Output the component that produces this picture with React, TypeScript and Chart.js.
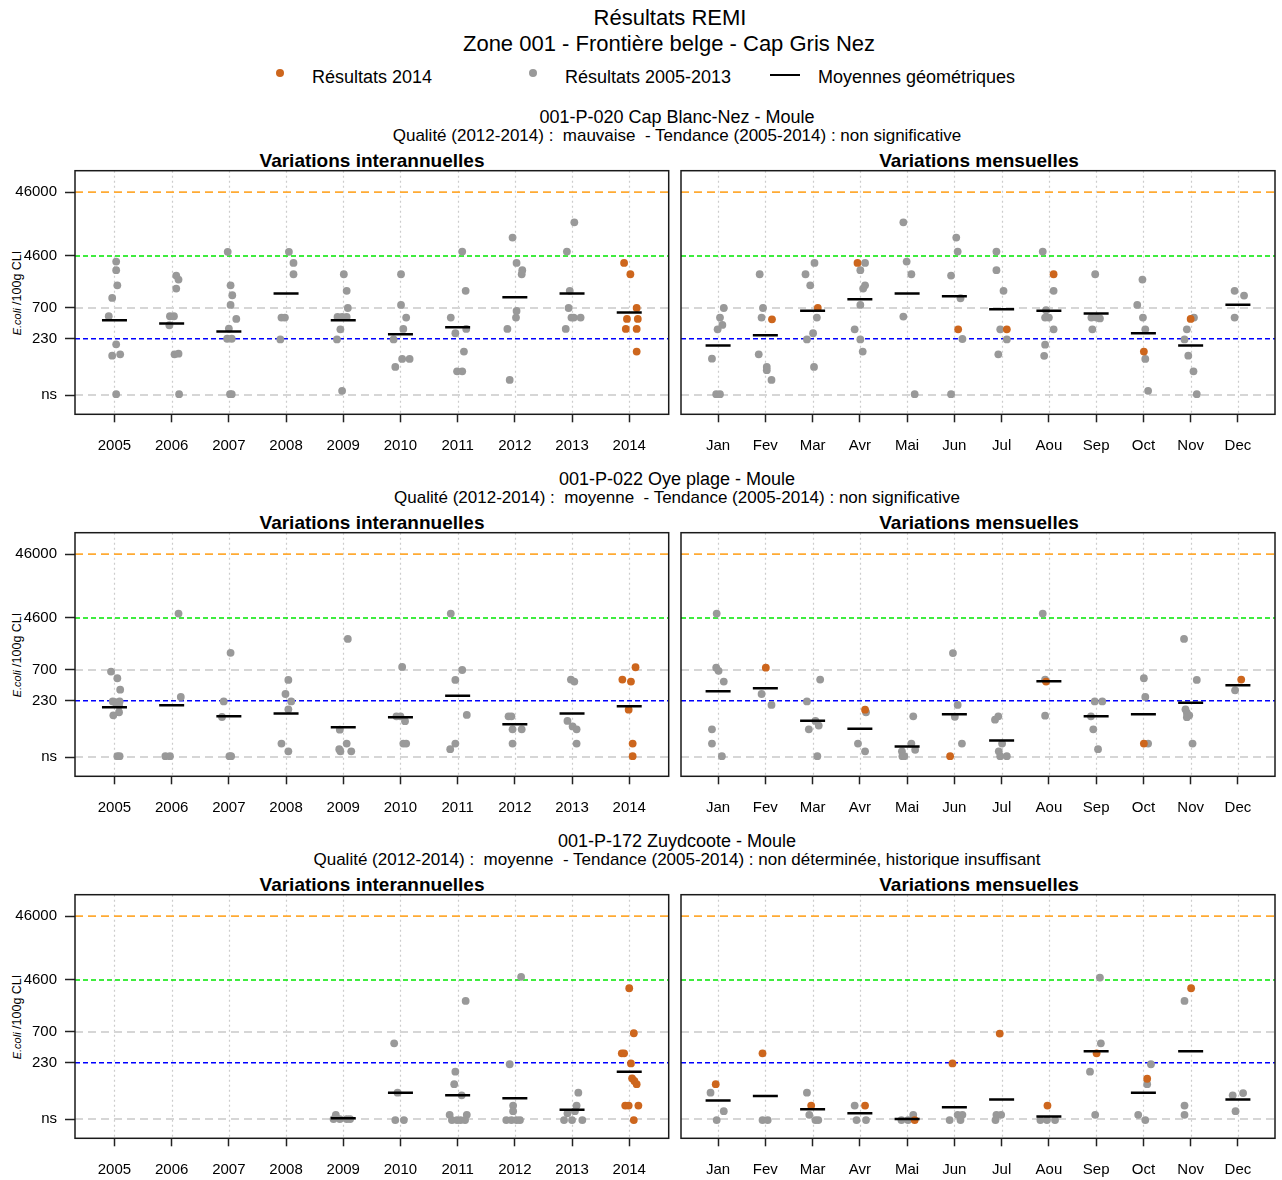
import React, { useEffect, useRef } from 'react';
import { Chart, registerables } from 'chart.js';
Chart.register(...registerables);

const FONT = "'Liberation Sans', Arial, Helvetica, sans-serif";
const GREY = '#999999';
const ORANGE = '#CD661D';

const years = ['2005', '2006', '2007', '2008', '2009', '2010', '2011', '2012', '2013', '2014'];
const months = ['Jan', 'Fev', 'Mar', 'Avr', 'Mai', 'Jun', 'Jul', 'Aou', 'Sep', 'Oct', 'Nov', 'Dec'];
const yTickValues = [30, 230, 700, 4600, 46000];
const yTickLabels = ['ns', '230', '700', '4600', '46000'];

type Pt = [number, number];

// ---------- 001-P-020 Cap Blanc-Nez ----------
const s1YearGrey: Pt[] = [
  [0.03, 3750], [0.03, 2740], [0.05, 1590], [-0.04, 1007], [-0.10, 519], [0.03, 188], [-0.04, 125], [0.10, 131], [0.03, 31],
  [1.08, 2260], [1.12, 1955], [1.08, 1412], [0.97, 519], [1.04, 519], [0.96, 375], [1.05, 131], [1.12, 134], [1.13, 31],
  [1.98, 5320], [2.03, 1590], [2.06, 1109], [2.03, 782], [2.13, 471], [2.0, 332], [1.97, 230], [2.05, 230], [2.02, 31], [2.05, 31],
  [3.05, 5320], [3.13, 3570], [3.13, 2370], [2.92, 494], [2.98, 494], [2.9, 225],
  [4.01, 2370], [4.06, 1300], [4.08, 700], [3.9, 507], [3.98, 507], [4.06, 507], [3.95, 324], [3.89, 225], [3.98, 35],
  [5.01, 2370], [5.01, 782], [5.1, 494], [5.05, 328], [4.88, 225], [5.03, 111], [5.16, 111], [4.91, 83],
  [6.08, 5380], [6.14, 1300], [5.88, 494], [6.15, 328], [5.96, 281], [6.11, 145], [5.99, 71], [6.08, 71],
  [6.96, 8930], [7.03, 3570], [7.13, 2740], [7.12, 2370], [7.03, 630], [7.02, 494], [6.87, 328], [6.91, 52],
  [8.04, 15500], [7.91, 5380], [7.96, 1300], [7.94, 700], [7.99, 494], [8.03, 494], [8.15, 494], [7.89, 328],
];
const s1YearOrange: Pt[] = [[8.91, 3570], [9.02, 2370], [9.13, 700], [8.96, 471], [9.15, 471], [8.94, 328], [9.13, 328], [9.13, 145]];
const s1YearMeans: (number | null)[] = [450, 398, 298, 1180, 449, 271, 348, 1032, 1180, 593];

const s1MonthGrey: Pt[] = [
  [0.12, 700], [0.04, 494], [0.09, 379], [-0.01, 324], [-0.13, 112], [-0.04, 31], [0.04, 31],
  [0.88, 2370], [0.95, 700], [0.92, 494], [0.86, 131], [1.03, 83], [1.03, 74], [1.13, 52],
  [2.04, 3570], [1.85, 2370], [1.95, 1590], [2.09, 494], [2.01, 281], [1.88, 225], [2.03, 83],
  [3.11, 3570], [3.01, 2740], [3.11, 1590], [3.07, 1412], [3.01, 782], [2.89, 324], [3.01, 225], [3.06, 145],
  [3.92, 15500], [3.99, 3750], [4.09, 2370], [3.92, 513], [4.16, 31],
  [5.04, 8930], [5.07, 5380], [4.93, 2260], [5.13, 995], [5.17, 228], [4.93, 31],
  [5.89, 5380], [5.89, 2740], [6.04, 1300], [5.97, 324], [6.11, 225], [5.93, 131],
  [6.87, 5380], [7.1, 1300], [6.94, 645], [6.92, 494], [7.0, 494], [7.1, 324], [6.92, 186], [6.9, 124],
  [7.98, 2370], [7.9, 494], [8.01, 494], [8.08, 480], [7.92, 324],
  [8.98, 1955], [8.87, 782], [8.99, 494], [9.04, 324], [9.04, 111], [9.1, 35],
  [10.07, 494], [9.92, 324], [9.87, 225], [9.95, 125], [10.06, 71], [10.13, 31],
  [10.93, 1300], [11.13, 1096], [10.93, 494],
];
const s1MonthOrange: Pt[] = [[1.14, 465], [2.11, 700], [2.95, 3570], [5.08, 324], [6.11, 324], [7.1, 2370], [9.01, 145], [10.0, 471]];
const s1MonthMeans: (number | null)[] = [180, 261, 636, 960, 1180, 1069, 668, 636, 572, 281, 180, 790];

// ---------- 001-P-022 Oye plage ----------
const s2YearGrey: Pt[] = [
  [-0.06, 660], [0.05, 519], [0.1, 344], [-0.03, 225], [0.01, 218], [0.09, 225], [0.08, 193], [0.08, 152], [-0.02, 136], [0.05, 31], [0.09, 31],
  [1.12, 5380], [1.16, 264], [0.89, 31], [0.97, 31],
  [2.03, 1300], [1.91, 225], [1.88, 128], [2.01, 31], [2.04, 31],
  [3.04, 489], [2.99, 294], [3.09, 225], [3.04, 169], [2.92, 49], [3.04, 37],
  [4.08, 2150], [3.94, 81], [4.06, 49], [3.93, 40], [3.95, 37], [4.14, 37],
  [5.03, 782], [4.93, 131], [5.0, 131], [5.08, 110], [5.05, 49], [5.1, 49],
  [5.88, 5380], [6.08, 700], [5.96, 489], [6.16, 138], [5.96, 49], [5.87, 40],
  [6.89, 131], [6.94, 131], [6.96, 82], [7.12, 82], [6.96, 49],
  [7.98, 494], [8.04, 460], [7.92, 111], [8.01, 91], [8.08, 82], [8.08, 49],
];
const s2YearOrange: Pt[] = [[9.11, 772], [8.88, 494], [9.03, 460], [8.99, 167], [9.06, 49], [9.06, 31]];
const s2YearMeans: (number | null)[] = [182, 196, 131, 145, 88, 127, 277, 98, 145, 188];

const s2MonthGrey: Pt[] = [
  [-0.03, 5380], [-0.04, 760], [0.01, 680], [0.12, 460], [-0.13, 82], [-0.13, 49], [0.08, 31],
  [0.92, 294], [1.13, 198],
  [2.16, 494], [1.88, 225], [2.06, 111], [2.13, 94], [1.92, 82], [2.1, 31],
  [3.13, 152], [2.96, 49], [3.11, 37],
  [4.13, 131], [4.09, 49], [3.89, 37], [4.17, 39], [3.9, 31], [3.94, 31],
  [4.97, 1290], [5.07, 198], [5.01, 129], [5.16, 49],
  [5.86, 116], [5.93, 131], [6.01, 49], [5.94, 37], [5.97, 31], [6.11, 31],
  [6.87, 5380], [6.92, 494], [6.92, 134],
  [7.97, 225], [8.13, 225], [7.89, 131], [7.94, 82], [8.04, 40],
  [9.01, 519], [9.04, 264], [9.1, 49],
  [9.86, 2150], [10.13, 489], [9.89, 169], [9.92, 148], [9.97, 136], [9.92, 127], [10.04, 49],
  [10.94, 336],
];
const s2MonthOrange: Pt[] = [[1.01, 760], [3.11, 167], [4.91, 31], [6.94, 460], [9.01, 49], [11.07, 494]];
const s2MonthMeans: (number | null)[] = [324, 361, 112, 84, 44, 141, 54.5, 465, 131, 141, 215, 403];

// ---------- 001-P-172 Zuydcoote ----------
const s3YearGrey: Pt[] = [
  [3.87, 35], [3.83, 30], [3.94, 30], [4.06, 30], [4.12, 30],
  [4.89, 465], [4.95, 78], [4.91, 29], [5.06, 29],
  [6.14, 2150], [5.96, 167], [5.94, 106], [6.07, 71], [5.86, 35], [6.16, 35], [5.9, 29], [5.99, 29], [6.05, 29], [6.13, 29],
  [7.11, 5130], [6.91, 218], [6.97, 49], [6.97, 40], [6.85, 29], [6.94, 29], [7.03, 29], [7.09, 29],
  [8.11, 78], [8.08, 49], [7.92, 37], [8.05, 40], [7.86, 29], [8.0, 29], [8.18, 29],
];
const s3YearOrange: Pt[] = [[9.0, 3400], [9.08, 668], [8.87, 324], [8.91, 324], [9.03, 225], [9.05, 131], [9.09, 119], [9.13, 106], [8.93, 49], [8.99, 49], [9.16, 49], [9.08, 29]];
const s3YearMeans: (number | null)[] = [null, null, null, null, 31, 78, 71, 64, 42, 167];

const s3MonthGrey: Pt[] = [
  [-0.16, 78], [0.12, 40], [-0.03, 29],
  [0.94, 29], [1.05, 29],
  [1.88, 78], [1.93, 35], [2.06, 29], [2.12, 29],
  [2.89, 49], [2.93, 29], [3.13, 29],
  [4.13, 35], [3.88, 29], [4.02, 29],
  [5.07, 35], [5.17, 35], [4.9, 29], [5.13, 29],
  [5.89, 35], [5.99, 35], [5.87, 29],
  [6.82, 29], [6.96, 29], [7.13, 29],
  [8.08, 5000], [8.1, 465], [7.87, 167], [7.98, 35],
  [9.16, 218], [9.08, 106], [8.89, 35], [9.04, 29],
  [9.87, 2150], [9.87, 49], [9.87, 35],
  [10.89, 71], [11.11, 77], [10.95, 40],
];
const s3MonthOrange: Pt[] = [[-0.05, 106], [0.94, 324], [1.97, 49], [3.11, 49], [4.16, 29], [4.96, 225], [5.96, 660], [6.97, 49], [8.01, 324], [9.08, 129], [10.01, 3400]];
const s3MonthMeans: (number | null)[] = [59, 69, 43, 37, 30, 46, 61, 33, 348, 78, 348, 61];

const stationTitles = ['001-P-020 Cap Blanc-Nez - Moule', '001-P-022 Oye plage - Moule', '001-P-172 Zuydcoote - Moule'];
const stationSubtitles = [
  'Qualité (2012-2014) :  mauvaise  - Tendance (2005-2014) : non significative',
  'Qualité (2012-2014) :  moyenne  - Tendance (2005-2014) : non significative',
  'Qualité (2012-2014) :  moyenne  - Tendance (2005-2014) : non déterminée, historique insuffisant',
];

// threshold line styles (by tick index)
const lineColors = ['#D6D6D6', '#0000FF', '#D6D6D6', '#00E600', '#FFAA33'];
const lineWidths = [2, 1.5, 2, 1.5, 1.8];
const lineDashes = [[8, 5], [5, 3], [8, 5], [5, 3], [8, 5]];

const panelDecor = {
  id: 'panelDecor',
  beforeDatasetsDraw(chart: any, _args: any, opts: any) {
    const { ctx, chartArea: a, scales } = chart;
    const xs = scales.x;
    const ys = scales.y;
    ctx.save();
    ctx.lineWidth = 1.2;
    ctx.strokeStyle = '#CCCCCC';
    ctx.setLineDash([2, 3]);
    for (let i = 0; i < opts.count; i++) {
      const px = Math.round(xs.getPixelForValue(i)) + 0.5;
      ctx.beginPath();
      ctx.moveTo(px, a.top);
      ctx.lineTo(px, a.bottom);
      ctx.stroke();
    }
    yTickValues.forEach((v, k) => {
      const py = ys.getPixelForValue(v);
      ctx.strokeStyle = lineColors[k];
      ctx.lineWidth = lineWidths[k];
      ctx.setLineDash(lineDashes[k]);
      ctx.beginPath();
      ctx.moveTo(a.left, py);
      ctx.lineTo(a.right, py);
      ctx.stroke();
    });
    ctx.setLineDash([]);
    ctx.lineWidth = 1.5;
    ctx.strokeStyle = '#1a1a1a';
    ctx.strokeRect(a.left, a.top, a.right - a.left, a.bottom - a.top);
    ctx.restore();
  },
};

const zeroPad = (s: any) => {
  s.paddingLeft = 0;
  s.paddingRight = 0;
  s.paddingTop = 0;
  s.paddingBottom = 0;
};

type PanelProps = {
  left: number; top: number; width: number; height: number;
  kind: 'year' | 'month';
  grey: Pt[]; orange: Pt[]; means: (number | null)[];
};

function Panel({ left, top, width, height, kind, grey, orange, means }: PanelProps) {
  const ref = useRef<HTMLCanvasElement>(null);
  useEffect(() => {
    const cats = kind === 'year' ? years : months;
    const n = cats.length;
    const pad = kind === 'year' ? 0.69 : 0.785;
    const showY = kind === 'year';
    const yW = showY ? 75 : 5;
    const areaRight = showY ? 668.7 : 1275;
    const padTop = 10.7;
    const areaH = 243.6;
    const meanData = means
      .map((m, i) => (m == null ? null : { x: i, y: m }))
      .filter((p) => p !== null) as { x: number; y: number }[];
    const chart = new Chart(ref.current as HTMLCanvasElement, {
      type: 'scatter',
      data: {
        datasets: [
          {
            data: meanData,
            pointStyle: 'line',
            pointRadius: 12.5,
            borderColor: '#000',
            backgroundColor: '#000',
            borderWidth: 2.5,
          },
          {
            data: orange.map(([x, y]) => ({ x, y })),
            backgroundColor: ORANGE,
            borderWidth: 0,
            pointRadius: 3.9,
          },
          {
            data: grey.map(([x, y]) => ({ x, y })),
            backgroundColor: GREY,
            borderWidth: 0,
            pointRadius: 3.9,
          },
        ],
      } as any,
      options: {
        responsive: false,
        animation: false,
        devicePixelRatio: 1,
        layout: { autoPadding: false, padding: { top: padTop, right: width - (areaRight - left), bottom: 0, left: 0 } },
        plugins: {
          legend: { display: false },
          tooltip: { enabled: false },
          panelDecor: { count: n },
        } as any,
        scales: {
          x: {
            type: 'linear',
            min: -pad,
            max: n - 1 + pad,
            afterBuildTicks: (s: any) => {
              s.ticks = cats.map((_, i) => ({ value: i }));
            },
            afterFit: (s: any) => {
              s.height = height - padTop - areaH;
              zeroPad(s);
            },
            ticks: {
              autoSkip: false,
              maxRotation: 0,
              padding: 15,
              color: '#000',
              font: { family: FONT, size: 15 },
              callback: (v: any) => cats[Math.round(Number(v))],
            },
            grid: {
              drawOnChartArea: false,
              drawTicks: true,
              tickLength: 8,
              tickColor: '#222',
              tickWidth: 1.5,
              color: 'rgba(0,0,0,0)',
            },
            border: { display: false },
          },
          y: {
            type: 'logarithmic',
            min: 15,
            max: 100000,
            afterBuildTicks: (s: any) => {
              s.ticks = yTickValues.map((v) => ({ value: v }));
            },
            afterFit: (s: any) => {
              s.width = yW;
              zeroPad(s);
            },
            ticks: {
              display: showY,
              autoSkip: false,
              padding: 8,
              color: '#000',
              font: { family: FONT, size: 15 },
              callback: (v: any) => {
                const k = yTickValues.indexOf(Number(v));
                return k >= 0 ? yTickLabels[k] : '';
              },
            },
            grid: {
              drawOnChartArea: false,
              drawTicks: showY,
              tickLength: 10,
              tickColor: '#222',
              tickWidth: 1.5,
              color: 'rgba(0,0,0,0)',
            },
            border: { display: false },
          },
        },
      } as any,
      plugins: [panelDecor],
    });
    return () => chart.destroy();
  }, []);
  return (
    <canvas
      ref={ref}
      width={width}
      height={height}
      style={{ position: 'absolute', left, top, width, height, display: 'block' }}
    />
  );
}

function CText({ x, y, size, bold, children }: { x: number; y: number; size: number; bold?: boolean; children: any }) {
  const lh = Math.round(size * 1.25);
  return (
    <div
      style={{
        position: 'absolute',
        left: x - 600,
        width: 1200,
        top: y - lh / 2,
        height: lh,
        lineHeight: lh + 'px',
        fontSize: size,
        fontWeight: bold ? 'bold' : 'normal',
        textAlign: 'center',
        whiteSpace: 'pre',
        color: '#000',
      }}
    >
      {children}
    </div>
  );
}

function LText({ x, y, size, children }: { x: number; y: number; size: number; children: any }) {
  const lh = Math.round(size * 1.25);
  return (
    <div
      style={{
        position: 'absolute',
        left: x,
        top: y - lh / 2,
        height: lh,
        lineHeight: lh + 'px',
        fontSize: size,
        whiteSpace: 'pre',
        color: '#000',
      }}
    >
      {children}
    </div>
  );
}

const rowData = [
  { yg: s1YearGrey, yo: s1YearOrange, ym: s1YearMeans, mg: s1MonthGrey, mo: s1MonthOrange, mm: s1MonthMeans },
  { yg: s2YearGrey, yo: s2YearOrange, ym: s2YearMeans, mg: s2MonthGrey, mo: s2MonthOrange, mm: s2MonthMeans },
  { yg: s3YearGrey, yo: s3YearOrange, ym: s3YearMeans, mg: s3MonthGrey, mo: s3MonthOrange, mm: s3MonthMeans },
];

export default function App() {
  const ROW = 362;
  return (
    <div
      style={{
        position: 'absolute',
        left: 0,
        top: 0,
        width: 1282,
        height: 1180,
        background: '#fff',
        fontFamily: FONT,
        overflow: 'hidden',
      }}
    >
      <CText x={670} y={18} size={22}>Résultats REMI</CText>
      <CText x={669} y={44} size={22}>Zone 001 - Frontière belge - Cap Gris Nez</CText>

      <div style={{ position: 'absolute', left: 276, top: 69, width: 8, height: 8, borderRadius: 4, background: ORANGE }} />
      <LText x={312} y={77} size={18}>Résultats 2014</LText>
      <div style={{ position: 'absolute', left: 529, top: 69, width: 8, height: 8, borderRadius: 4, background: GREY }} />
      <LText x={565} y={77} size={18}>Résultats 2005-2013</LText>
      <div style={{ position: 'absolute', left: 770, top: 74, width: 30, height: 2, background: '#000' }} />
      <LText x={818} y={77} size={18}>Moyennes géométriques</LText>

      {rowData.map((d, r) => (
        <React.Fragment key={r}>
          <CText x={677} y={117 + ROW * r} size={18}>{stationTitles[r]}</CText>
          <CText x={677} y={135 + ROW * r} size={17}>{stationSubtitles[r]}</CText>
          <CText x={372} y={161 + ROW * r} size={19} bold>Variations interannuelles</CText>
          <CText x={979} y={161 + ROW * r} size={19} bold>Variations mensuelles</CText>
          <div
            style={{
              position: 'absolute',
              left: 16.5 - 70,
              top: 292.5 + ROW * r - 8,
              width: 140,
              height: 16,
              lineHeight: '16px',
              textAlign: 'center',
              transform: 'rotate(-90deg)',
              whiteSpace: 'pre',
              fontSize: 12.5,
              color: '#000',
            }}
          >
            <i style={{ fontSize: 11 }}>E.coli</i> /100g CLI
          </div>
          <Panel left={0} top={160 + ROW * r} width={676} height={300} kind="year" grey={d.yg} orange={d.yo} means={d.ym} />
          <Panel left={676} top={160 + ROW * r} width={606} height={300} kind="month" grey={d.mg} orange={d.mo} means={d.mm} />
        </React.Fragment>
      ))}
    </div>
  );
}
